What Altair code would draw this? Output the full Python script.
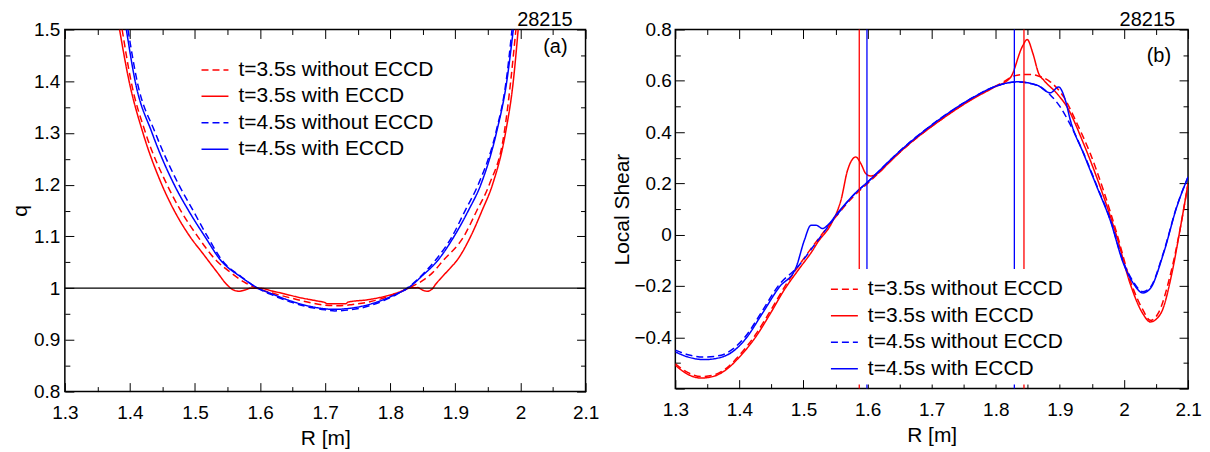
import altair as alt
import pandas as pd

FONT = "Liberation Sans"
RED = "#ff0000"
BLUE = "#0000ff"

series_labels = ["t=3.5s without ECCD", "t=3.5s with ECCD",
                 "t=4.5s without ECCD", "t=4.5s with ECCD"]
series_colors = [RED, RED, BLUE, BLUE]
series_dashes = [[7, 4], [1, 0], [7, 4], [1, 0]]

# ---------------- panel (a): q profiles ----------------
q_R_35_wo = [1.388, 1.4017, 1.424, 1.457, 1.478, 1.504, 1.533, 1.555, 1.575, 1.594,
             1.62, 1.65, 1.68, 1.70, 1.72, 1.74, 1.77, 1.80, 1.828, 1.85,
             1.865, 1.881, 1.913, 1.933, 1.952, 1.975, 1.985, 1.993]
q_35_wo = [1.5, 1.4, 1.3, 1.2, 1.15, 1.1, 1.053, 1.03, 1.012, 1.0,
           0.99, 0.98, 0.971, 0.967, 0.966, 0.968, 0.974, 0.985, 1.0, 1.015,
           1.03, 1.053, 1.1, 1.15, 1.2, 1.3, 1.4, 1.5]

q_R_35_w = [1.384, 1.3987, 1.420, 1.449, 1.468, 1.492, 1.512, 1.535, 1.548,
            1.558, 1.568, 1.578, 1.586, 1.599, 1.62, 1.637, 1.66, 1.6885, 1.700,
            1.702, 1.72, 1.732, 1.735, 1.765, 1.791, 1.816, 1.829, 1.842, 1.850,
            1.857, 1.864, 1.870, 1.882, 1.893, 1.902, 1.9235, 1.941, 1.957, 1.977,
            1.989, 1.9965]
q_35_w = [1.5, 1.4, 1.3, 1.2, 1.15, 1.1, 1.067, 1.029, 1.008,
          0.997, 0.994, 0.997, 1.0, 1.0, 0.994, 0.989, 0.982, 0.975, 0.972,
          0.970, 0.970, 0.970, 0.973, 0.9775, 0.984, 0.9935, 1.0, 1.001, 0.996,
          0.994, 0.998, 1.008, 1.025, 1.04, 1.053, 1.1, 1.15, 1.2, 1.3,
          1.4, 1.5]

q_R_45_wo = [1.397, 1.411, 1.439, 1.475, 1.497, 1.519, 1.542, 1.571, 1.596, 1.62,
             1.65, 1.68, 1.70, 1.715, 1.73, 1.76, 1.79, 1.81, 1.826, 1.85,
             1.870, 1.895, 1.915, 1.935, 1.962, 1.978, 1.987]
q_45_wo = [1.5, 1.4, 1.3, 1.2, 1.15, 1.1, 1.053, 1.022, 1.0, 0.986,
           0.972, 0.962, 0.958, 0.956, 0.957, 0.963, 0.976, 0.988, 1.0, 1.027,
           1.055, 1.1, 1.15, 1.2, 1.3, 1.4, 1.5]

q_R_45_w = [1.3945, 1.408, 1.434, 1.468, 1.49, 1.515, 1.540, 1.57, 1.597, 1.62,
            1.65, 1.68, 1.70, 1.715, 1.73, 1.76, 1.79, 1.81, 1.827, 1.85,
            1.8725, 1.898, 1.92, 1.939, 1.963, 1.979, 1.989]
q_45_w = [1.5, 1.4, 1.3, 1.2, 1.15, 1.1, 1.053, 1.022, 1.0, 0.988,
          0.974, 0.964, 0.960, 0.959, 0.960, 0.966, 0.978, 0.989, 1.0, 1.025,
          1.053, 1.1, 1.15, 1.2, 1.3, 1.4, 1.5]

# ---------------- panel (b): local shear ----------------
s_R_35_wo = [1.30, 1.32, 1.34, 1.36, 1.38, 1.40, 1.425, 1.45, 1.47, 1.49,
             1.51, 1.5377, 1.5843, 1.60, 1.6518, 1.714, 1.7659, 1.8074, 1.8334, 1.854,
             1.865, 1.885, 1.906, 1.9268, 1.9475, 1.968, 1.989, 2.0097, 2.03, 2.0409,
             2.0538, 2.072, 2.0875, 2.1]
s_35_wo = [-0.503, -0.538, -0.553, -0.547, -0.52, -0.47, -0.39, -0.29, -0.205, -0.13,
           -0.06, 0.03, 0.165, 0.20, 0.325, 0.448, 0.534, 0.589, 0.622, 0.625,
           0.62, 0.596, 0.537, 0.433, 0.316, 0.173, 0.004, -0.178, -0.295, -0.334,
           -0.305, -0.16, 0.02, 0.199]

s_R_35_w = [1.30, 1.32, 1.34, 1.36, 1.38, 1.40, 1.425, 1.45, 1.47, 1.4935,
            1.5143, 1.522, 1.5428, 1.5532, 1.5584, 1.5687, 1.5817, 1.5895, 1.5973, 1.605,
            1.6155, 1.631, 1.6518, 1.714, 1.7659, 1.797, 1.823, 1.8412, 1.849, 1.858,
            1.867, 1.875, 1.8956, 1.9112, 1.937, 1.963, 1.989, 2.0097, 2.03, 2.041,
            2.0573, 2.0747, 2.0875, 2.1]
s_35_w = [-0.509, -0.545, -0.559, -0.552, -0.525, -0.477, -0.40, -0.30, -0.215, -0.132,
          -0.061, -0.03, 0.04, 0.095, 0.134, 0.251, 0.303, 0.277, 0.238, 0.229,
          0.238, 0.275, 0.325, 0.447, 0.532, 0.574, 0.613, 0.732, 0.761, 0.706,
          0.628, 0.602, 0.55, 0.498, 0.355, 0.186, -0.009, -0.191, -0.31, -0.34,
          -0.308, -0.152, 0.02, 0.199]

s_R_45_wo = [1.30, 1.32, 1.3456, 1.3716, 1.39, 1.41, 1.435, 1.462, 1.49, 1.52,
             1.55, 1.58, 1.60, 1.6518, 1.714, 1.7659, 1.797, 1.8334, 1.8645, 1.885,
             1.90, 1.914, 1.937, 1.9579, 1.9786, 1.9993, 2.015, 2.0295, 2.041, 2.0616,
             2.0824, 2.1]
s_45_wo = [-0.45, -0.468, -0.477, -0.47, -0.445, -0.395, -0.30, -0.195, -0.128, -0.03,
           0.07, 0.16, 0.205, 0.33, 0.454, 0.537, 0.576, 0.595, 0.582, 0.545,
           0.5, 0.44, 0.318, 0.19, 0.06, -0.108, -0.185, -0.222, -0.206, -0.07,
           0.11, 0.225]

s_R_45_w = [1.30, 1.32, 1.345, 1.37, 1.39, 1.41, 1.435, 1.462, 1.488, 1.5013,
            1.5117, 1.5195, 1.5299, 1.5377, 1.5532, 1.58, 1.60, 1.6518, 1.714, 1.7659,
            1.797, 1.8334, 1.8645, 1.885, 1.898, 1.9086, 1.9164, 1.937, 1.9579, 1.9786,
            1.9993, 2.015, 2.0295, 2.041, 2.0616, 2.0824, 2.1]
s_45_w = [-0.457, -0.477, -0.487, -0.479, -0.455, -0.405, -0.31, -0.205, -0.13, -0.022,
          0.037, 0.037, 0.024, 0.037, 0.085, 0.16, 0.2056, 0.329, 0.453, 0.537,
          0.576, 0.596, 0.583, 0.553, 0.576, 0.524, 0.446, 0.316, 0.186, 0.056,
          -0.113, -0.191, -0.227, -0.21, -0.074, 0.108, 0.225]

# resonance (deposition) locations, panel (b)
vline_red_R = [1.587, 1.844]
vline_blue_R = [1.599, 1.829]

# axis ticks
x_major = [1.3, 1.4, 1.5, 1.6, 1.7, 1.8, 1.9, 2.0, 2.1]
x_minor = [1.35, 1.45, 1.55, 1.65, 1.75, 1.85, 1.95, 2.05]
q_major = [0.8, 0.9, 1.0, 1.1, 1.2, 1.3, 1.4, 1.5]
q_minor = [0.85, 0.95, 1.05, 1.15, 1.25, 1.35, 1.45]
s_major = [-0.6, -0.4, -0.2, 0.0, 0.2, 0.4, 0.6, 0.8]
s_minor = [-0.5, -0.3, -0.1, 0.1, 0.3, 0.5, 0.7]
s_labels = [-0.4, -0.2, 0.0, 0.2, 0.4, 0.6, 0.8]

W1, H1 = 522, 363
W2, H2 = 514, 360
MAJ, MIN = 9, 5
XT = "R [m]"
XDOM = [1.3, 2.1]
QDOM = [0.8, 1.5]
SDOM = [-0.6, 0.8]


def sc(dom):
    return alt.Scale(domain=dom, nice=False, zero=False)


def series_frame(rs, vs):
    frames = [pd.DataFrame({"R": r, "val": v, "series": lab})
              for lab, r, v in zip(series_labels, rs, vs)]
    return pd.concat(frames, ignore_index=True)


df_q = series_frame([q_R_35_wo, q_R_35_w, q_R_45_wo, q_R_45_w],
                    [q_35_wo, q_35_w, q_45_wo, q_45_w])
df_s = series_frame([s_R_35_wo, s_R_35_w, s_R_45_wo, s_R_45_w],
                    [s_35_wo, s_35_w, s_45_wo, s_45_w])


def legend(x, y, pad, fill=None):
    kw = dict(orient="none", legendX=x, legendY=y, title=None,
              labelFont=FONT, labelFontSize=21, labelColor="black", labelLimit=400,
              symbolType="stroke", symbolSize=729, symbolStrokeWidth=1.5,
              rowPadding=1.5, labelOffset=9, padding=pad)
    if fill:
        kw["fillColor"] = fill
    return alt.Legend(**kw)


def curves(df, ydom, leg, ytitle, yvals, ytitle_pad, ylab_pad):
    return alt.Chart(df).mark_line(strokeWidth=1.5, clip=True, interpolate="monotone").encode(
        x=alt.X("R:Q", scale=sc(XDOM), title=XT,
                axis=alt.Axis(values=x_major, format=".1~f", labelFlush=False,
                              labelPadding=12, titlePadding=5)),
        y=alt.Y("val:Q", scale=sc(ydom), title=ytitle,
                axis=alt.Axis(values=yvals, format=".1~f", labelFlush=False,
                              labelPadding=ylab_pad, titlePadding=ytitle_pad)),
        color=alt.Color("series:N", scale=alt.Scale(domain=series_labels, range=series_colors),
                        legend=leg),
        strokeDash=alt.StrokeDash("series:N",
                                  scale=alt.Scale(domain=series_labels, range=series_dashes),
                                  legend=leg),
    )


def tick_axis(orient, vals, L):
    # unlabeled axis pulled inside the frame (negative offset) so its ticks point inward
    return alt.Axis(orient=orient, values=vals, tickSize=L, offset=-L, ticks=True,
                    tickColor="black", tickWidth=1, labels=False, domain=False,
                    grid=False, title=None, minExtent=0, maxExtent=L)


def tick_layers(ydom, ymaj, ymin):
    layers = []
    for orient in ("bottom", "top"):
        for vals, L in ((x_major, MAJ), (x_minor, MIN)):
            d = pd.DataFrame({"v": vals, "w": [ydom[0]] * len(vals)})
            layers.append(alt.Chart(d).mark_point(opacity=0, size=1).encode(
                x=alt.X("v:Q", scale=sc(XDOM), axis=tick_axis(orient, vals, L)),
                y=alt.Y("w:Q", scale=sc(ydom), axis=None)))
    for orient in ("left", "right"):
        for vals, L in ((ymaj, MAJ), (ymin, MIN)):
            d = pd.DataFrame({"v": vals, "w": [XDOM[0]] * len(vals)})
            layers.append(alt.Chart(d).mark_point(opacity=0, size=1).encode(
                y=alt.Y("v:Q", scale=sc(ydom), axis=tick_axis(orient, vals, L)),
                x=alt.X("w:Q", scale=sc(XDOM), axis=None)))
    return layers


def label_text(txt, x, y, baseline="middle"):
    return alt.Chart(pd.DataFrame({"t": [txt]})).mark_text(
        align="right", baseline=baseline, font=FONT, fontSize=20, color="black"
    ).encode(text="t:N", x=alt.value(x), y=alt.value(y))


# panel (a)
one_line = alt.Chart(pd.DataFrame({"q1": [1.0]})).mark_rule(color="black", strokeWidth=1.3).encode(
    y=alt.Y("q1:Q", scale=sc(QDOM), axis=None))
left = alt.layer(
    curves(df_q, QDOM, legend(136, 26, 0), "q", q_major, 3, 5),
    one_line,
    *tick_layers(QDOM, q_major, q_minor),
    label_text("(a)", W1 - 18, 18),
    label_text("28215", W1 - 13, -4, "alphabetic"),
).resolve_axis(x="independent", y="independent").properties(width=W1, height=H1)

# panel (b)
vl_red = alt.Chart(pd.DataFrame({"R": vline_red_R})).mark_rule(color=RED, strokeWidth=1.3).encode(
    x=alt.X("R:Q", scale=sc(XDOM), axis=None))
vl_blue = alt.Chart(pd.DataFrame({"R": vline_blue_R})).mark_rule(color=BLUE, strokeWidth=1.3).encode(
    x=alt.X("R:Q", scale=sc(XDOM), axis=None))
right = alt.layer(
    curves(df_s, SDOM, legend(149, 240, 6, "white"), "Local Shear", s_labels, 1, 4),
    vl_red, vl_blue,
    *tick_layers(SDOM, s_major, s_minor),
    label_text("(b)", W2 - 17, 27),
    label_text("28215", W2 - 13, -4, "alphabetic"),
).resolve_axis(x="independent", y="independent").properties(width=W2, height=H2)

chart = alt.hconcat(left, right, spacing=11).resolve_scale(
    color="independent", strokeDash="independent"
).properties(
    padding={"left": 0, "top": 0, "right": 0, "bottom": 0}
).configure_view(
    stroke="black", strokeWidth=1.5
).configure_axis(
    tickSize=0, domain=False, grid=False,
    labelFont=FONT, labelFontSize=19, labelColor="black",
    titleFont=FONT, titleFontSize=21, titleFontWeight="normal", titleColor="black",
)

chart.save("out.html", embed_options={"renderer": "svg", "actions": False})
